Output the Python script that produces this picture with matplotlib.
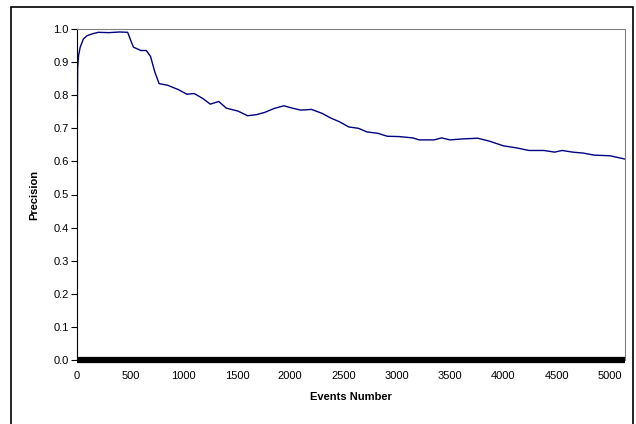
import matplotlib.pyplot as plt
from matplotlib.patches import Rectangle

# values
events = [0, 3, 6, 15, 30, 60, 95, 150, 200, 300, 400, 475, 513, 530, 600, 650, 690,
          730, 770, 850, 950, 1030, 1100, 1180, 1250, 1330, 1400, 1510, 1600, 1680,
          1760, 1850, 1940, 2030, 2100, 2200, 2300, 2380, 2460, 2550, 2640, 2720,
          2820, 2910, 3020, 3150, 3210, 3350, 3420, 3500, 3620, 3760, 3870, 4000,
          4120, 4240, 4380, 4480, 4550, 4650, 4750, 4850, 5000, 5140]
precision = [0.0, 0.716, 0.882, 0.92, 0.945, 0.97, 0.98, 0.986, 0.99, 0.989, 0.991, 0.99, 0.958,
             0.945, 0.935, 0.935, 0.917, 0.87, 0.835, 0.83, 0.817, 0.803, 0.805, 0.79,
             0.773, 0.781, 0.761, 0.752, 0.738, 0.741, 0.748, 0.76, 0.768, 0.76, 0.755,
             0.757, 0.745, 0.731, 0.72, 0.704, 0.70, 0.689, 0.685, 0.676, 0.675, 0.671,
             0.665, 0.665, 0.671, 0.665, 0.668, 0.67, 0.661, 0.647, 0.641, 0.633,
             0.633, 0.628, 0.633, 0.628, 0.625, 0.619, 0.617, 0.607]
xticks = list(range(0, 5001, 500))
yticks = [i / 10 for i in range(11)]

plt.rcParams['font.family'] = ['Liberation Sans', 'DejaVu Sans']

fig = plt.figure(figsize=(6.36, 4.24), dpi=100)
ax = fig.add_axes([77/636, 1 - 360/424, (625 - 77)/636, (360 - 29)/424])

ax.plot(events, precision, color='#000080', linewidth=1.0)

ax.set_xlim(0, 5140)
ax.set_ylim(0, 1.0)
ax.set_xticks(xticks)
ax.set_yticks(yticks)
ax.set_yticklabels([f'{v:.1f}' for v in yticks])
ax.tick_params(axis='both', labelsize=8, colors='black')
ax.tick_params(axis='y', length=4, width=0.8, direction='out', pad=2)
ax.tick_params(axis='x', length=0, pad=8)

for side in ['top', 'right']:
    ax.spines[side].set_color('#808080')
    ax.spines[side].set_linewidth(0.8)
ax.spines['left'].set_color('black')
ax.spines['left'].set_linewidth(0.8)
ax.spines['bottom'].set_color('black')
ax.spines['bottom'].set_linewidth(4.5)
ax.spines['bottom'].set_capstyle('butt')

ax.set_xlabel('Events Number', fontsize=8, fontweight='bold', labelpad=8)
ax.set_ylabel('Precision', fontsize=8, fontweight='bold', labelpad=10)

# outer chart frame
fig.patches.append(Rectangle((11/636, -0.02), (633 - 11)/636, 1 - 7/424 + 0.02,
                             transform=fig.transFigure, fill=False,
                             edgecolor='black', linewidth=1.2))

fig.savefig('out.png', dpi=100)
